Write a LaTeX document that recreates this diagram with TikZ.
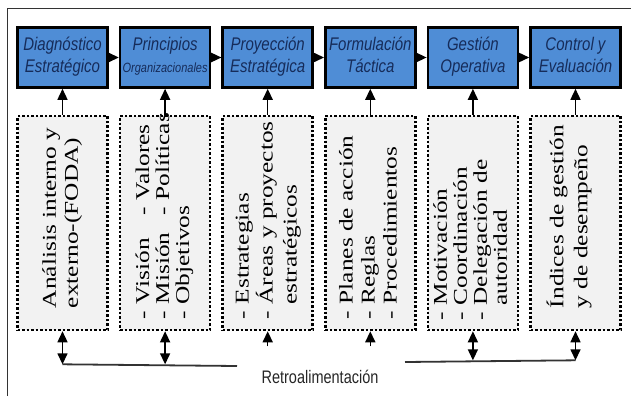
\documentclass[tikz,border=0pt]{standalone}
\usepackage{fontspec}
\setmainfont{Liberation Serif}
\setsansfont{Liberation Sans}
\usepackage{graphicx}
\usetikzlibrary{positioning,arrows.meta}
\definecolor{stageblue}{RGB}{79,141,214}
\definecolor{stagetext}{RGB}{22,44,90}
\definecolor{notefill}{RGB}{242,242,242}
\newcommand{\twolines}[2]{\scalebox{1}[1.22]{\begin{tabular}{@{}c@{}}#1\\#2\end{tabular}}}
\newcommand{\uptext}[1]{\scalebox{1.3}[1]{\begin{tabular}{@{}l@{}}#1\end{tabular}}}

\begin{document}
\begin{tikzpicture}[x=1pt,y=-1pt,
  stage/.style={draw=black,line width=2.6pt,fill=stageblue,minimum width=90pt,
    minimum height=60pt,inner sep=1pt,text=stagetext,
    font=\sffamily\itshape\fontsize{15}{18}\selectfont},
  note/.style={draw=black,line width=2.5pt,dash pattern=on 2.5pt off 2pt,
    fill=notefill,minimum width=90pt,minimum height=214pt,inner sep=0pt},
  notetext/.style={rotate=90,anchor=west,inner sep=0pt,text=black,
    font=\fontsize{19.5}{22}\selectfont},
  arr/.style={line width=1.5pt,black,-{Triangle[width=10pt,length=11pt]}},
  darr/.style={line width=1.5pt,black,
    {Triangle[width=10pt,length=11pt]}-{Triangle[width=10pt,length=11pt]}},
  feed/.style={line width=1.8pt,black!80}]
  \useasboundingbox (0,0) rectangle (631,396);
  \draw[line width=1pt,black!80] (7,396) |- (631,9);

  % stages
  \node[stage] (diag) at (62.5,57.5) {\twolines{Diagnóstico}{Estratégico}};
  \node[stage,right=10pt of diag] (princ)
    {\twolines{Principios}{\fontsize{11}{12}\selectfont Organizacionales}};
  \node[stage,right=10pt of princ] (proy) {\twolines{Proyección}{Estratégica}};
  \node[stage,right=10pt of proy] (form) {\twolines{Formulación}{Táctica}};
  \node[stage,right=10pt of form] (gest) {\twolines{Gestión}{Operativa}};
  \node[stage,right=10pt of gest] (ctrl) {\twolines{Control y}{Evaluación}};

  \draw[arr] (diag) -- (princ);
  \draw[arr] (princ) -- (proy);
  \draw[arr] (proy) -- (form);
  \draw[arr] (form) -- (gest);
  \draw[arr] (gest) -- (ctrl);

  % dotted boxes
  \node[note,below=26pt of diag] (ana) {};
  \node[note,below=26pt of princ] (vis) {};
  \node[note,below=26pt of proy] (estr) {};
  \node[note,below=26pt of form] (plan) {};
  \node[note,below=26pt of gest] (moti) {};
  \node[note,below=26pt of ctrl] (ind) {};

  \node[notetext] (ana-t) at ([yshift=23pt]ana.south)
    {\uptext{Análisis interno y\\externo-(FODA)}};
  \node[notetext,font=\fontsize{19.5}{20}\selectfont] (vis-t) at ([yshift=12pt]vis.south)
    {\uptext{\makebox[80pt][l]{- Visión}- Valores\\
      \makebox[80pt][l]{- Misión}- Políticas\\- Objetivos}};
  \node[notetext,font=\fontsize{19.5}{24}\selectfont] (estr-t) at ([yshift=12pt]estr.south)
    {\uptext{- Estrategias\\- Áreas y proyectos\\\phantom{- }estratégicos}};
  \node[notetext] (plan-t) at ([yshift=12pt]plan.south)
    {\uptext{- Planes de acción\\- Reglas\\- Procedimientos}};
  \node[notetext,font=\fontsize{19.5}{20}\selectfont] (moti-t) at ([yshift=11pt]moti.south)
    {\uptext{- Motivación\\- Coordinación\\- Delegación de\\\phantom{- }autoridad}};
  \node[notetext,font=\fontsize{19.5}{24}\selectfont] (ind-t) at ([yshift=23pt,xshift=-5pt]ind.south)
    {\uptext{Índices de gestión\\y de desempeño}};

  \draw[arr] (ana) -- (diag);
  \draw[arr] (vis) -- (princ);
  \draw[arr] (estr) -- (proy);
  \draw[arr] (plan) -- (form);
  \draw[arr] (moti) -- (gest);
  \draw[arr] (ind) -- (ctrl);

  % feedback
  \coordinate[below=33pt of ana] (ana-fb);
  \coordinate[below=33pt of vis] (vis-fb);
  \coordinate[below=15pt of estr] (estr-fb);
  \coordinate[below=15pt of plan] (plan-fb);
  \coordinate[below=29pt of moti] (moti-fb);
  \coordinate[below=29pt of ind] (ind-fb);
  \coordinate (fb-left) at (237,366);
  \coordinate (fb-right) at (405,362);

  \draw[feed] (ana-fb) -- (fb-left);
  \draw[feed] (fb-right) -- (ind-fb);
  \draw[darr] (ana) -- (ana-fb);
  \draw[darr] (vis) -- (vis-fb);
  \draw[arr] (estr-fb) -- (estr);
  \draw[arr] (plan-fb) -- (plan);
  \draw[darr] (moti) -- (moti-fb);
  \draw[darr] (ind) -- (ind-fb);

  \node[font=\sffamily\fontsize{14.5}{16}\selectfont,text=black!85] (fb) at (320,377)
    {\scalebox{1}[1.25]{Retroalimentación}};
\end{tikzpicture}
\end{document}
